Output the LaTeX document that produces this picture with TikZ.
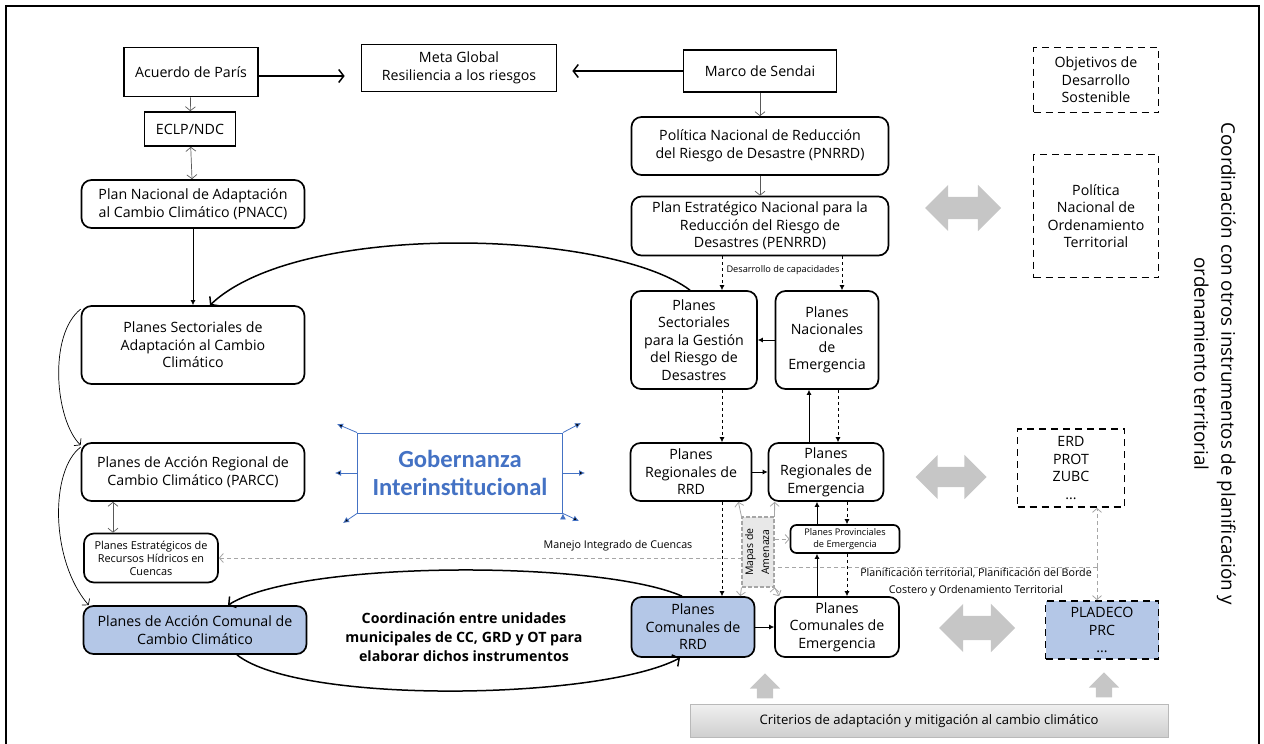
\documentclass[tikz,border=0pt]{standalone}
\usepackage{fontspec}
\setmainfont{Open Sans}
\newfontfamily\calibrifont{Carlito}
\usetikzlibrary{arrows.meta,shapes.arrows,positioning}
\definecolor{paleblue}{HTML}{B4C7E7}
\definecolor{govblue}{HTML}{4472C4}
\definecolor{arrowgray}{HTML}{595959}
\definecolor{lightline}{HTML}{A6A6A6}
\definecolor{blockgray}{HTML}{C6C6C6}
\begin{document}
\begin{tikzpicture}[x=1pt,y=-1pt,
    font=\fontsize{14.2}{17.5}\selectfont,
    plain box/.style={draw,line width=1.7pt,align=center,inner sep=2pt},
    round box/.style={plain box,rounded corners=10pt},
    dash box/.style={draw,line width=1.7pt,dash pattern=on 7pt off 5pt,align=center},
    small text/.style={font=\fontsize{10.9}{13}\selectfont},
    tiny text/.style={font=\fontsize{9.2}{12}\selectfont},
    bar arrow/.style={-{Straight Barb[length=5pt,width=13pt]},line width=1.5pt},
    gray arrow/.style={draw=arrowgray,-{Straight Barb[length=4pt,width=10pt]},line width=0.7pt},
    gray double/.style={gray arrow,{Straight Barb[length=4pt,width=10pt]}-{Straight Barb[length=4pt,width=10pt]}},
    flow/.style={-{Latex[length=5pt,width=5pt]},line width=0.8pt},
    flow dashed/.style={flow,dashed},
    thin bend/.style={-{Straight Barb[length=4pt,width=10pt]},line width=0.7pt},
    light arrow/.style={draw=lightline,-{Straight Barb[length=4pt,width=9pt]},line width=0.8pt},
    light dashed/.style={light arrow,dash pattern=on 4pt off 3pt},
    gov arrow/.style={draw=govblue,-{Latex[length=6pt,width=6pt]},line width=0.8pt},
    link arrow/.style={double arrow,fill=blockgray,draw=none,double arrow head extend=12pt,
                       inner xsep=0pt,inner ysep=11pt},
    up arrow/.style={single arrow,fill=blockgray,draw=none,rotate=90,single arrow head extend=7pt,
                     inner xsep=0pt,inner ysep=8pt,minimum height=25pt}]

    \useasboundingbox (0,0) rectangle (1264,744);
    % Frame
    \draw[line width=1.3pt] (6,744) -- (6,6) -- (1259,6) -- (1259,744);

    % Left column
    \node[plain box, minimum width=134pt, minimum height=49pt] (paris) at (191,72) {Acuerdo de París};
    \node[plain box, minimum width=91pt, minimum height=34pt] (eclp) at (190,129) {ECLP/NDC};
    \node[round box, minimum width=223pt, minimum height=48pt] (pnacc) at (193,204)
        {Plan Nacional de Adaptación\\al Cambio Climático (PNACC)};
    \node[round box, minimum width=223pt, minimum height=78pt] (psa) at (193,345)
        {Planes Sectoriales de\\Adaptación al Cambio\\Climático};
    \node[round box, minimum width=223pt, minimum height=58pt] (parcc) at (193,472)
        {Planes de Acción Regional de\\Cambio Climático (PARCC)};
    \node[round box, small text, minimum width=134pt, minimum height=49pt] (perh) at (151,558)
        {Planes Estratégicos de\\Recursos Hídricos en\\Cuencas};
    \node[round box, fill=paleblue, minimum width=223pt, minimum height=48pt] (pacc) at (195,630)
        {Planes de Acción Comunal de\\Cambio Climático};

    % Centre
    \node[plain box, minimum width=195pt, minimum height=47pt] (meta) at (459,68)
        {Meta Global\\Resiliencia a los riesgos};
    \node[draw=govblue, line width=0.9pt, align=center, text=govblue, minimum width=205pt, minimum height=80pt,
          font=\calibrifont\bfseries\fontsize{24.6}{28}\selectfont] (gob) at (460,473)
        {Gobernanza\\Interinstitucional};
    \node[align=center, font=\bfseries\fontsize{14.2}{19}\selectfont] (coord) at (464,637)
        {Coordinación entre unidades\\municipales de CC, GRD y OT para\\elaborar dichos instrumentos};

    % Risk column
    \node[plain box, minimum width=153pt, minimum height=42pt] (sendai) at (760,71) {Marco de Sendai};
    \node[round box, minimum width=257pt, minimum height=58pt] (pnrrd) at (760,146)
        {Política Nacional de Reducción\\del Riesgo de Desastre (PNRRD)};
    \node[round box, minimum width=257pt, minimum height=59pt] (penrrd) at (760,226)
        {Plan Estratégico Nacional para la\\Reducción del Riesgo de\\Desastres (PENRRD)};
    \node[round box, minimum width=126pt, minimum height=98pt] (psgrd) at (694,340)
        {Planes\\Sectoriales\\para la Gestión\\del Riesgo de\\Desastres};
    \node[round box, minimum width=103pt, minimum height=98pt] (pne) at (827,340)
        {Planes\\Nacionales\\de\\Emergencia};
    \node[round box, minimum width=121pt, minimum height=58pt] (prrd) at (691,472)
        {Planes\\Regionales de\\RRD};
    \node[round box, minimum width=115pt, minimum height=58pt] (pre) at (826,472)
        {Planes\\Regionales de\\Emergencia};
    \node[round box, tiny text, rounded corners=6pt, minimum width=109pt, minimum height=28pt] (ppe) at (845,539)
        {Planes Provinciales\\de Emergencia};
    \node[round box, fill=paleblue, minimum width=123pt, minimum height=60pt] (pcrrd) at (693,627)
        {Planes\\Comunales de\\RRD};
    \node[round box, minimum width=124pt, minimum height=60pt] (pce) at (837,627)
        {Planes\\Comunales de\\Emergencia};

    % Other instruments
    \node[dash box, minimum width=125pt, minimum height=65pt] (ods) at (1096,80)
        {Objetivos de\\Desarrollo\\Sostenible};
    \node[dash box, minimum width=125pt, minimum height=123pt] (pnot) at (1096,216)
        {Política\\Nacional de\\Ordenamiento\\Territorial};
    \node[dash box, minimum width=107pt, minimum height=78pt] (erd) at (1071,468)
        {ERD\\PROT\\ZUBC\\...};
    \node[dash box, fill=paleblue, minimum width=113pt, minimum height=58pt] (pladeco) at (1102,630)
        {PLADECO\\PRC\\...};
    \node[rotate=-90, align=center, font=\fontsize{18.8}{27}\selectfont] (side) at (1215,364)
        {Coordinación con otros instrumentos de planificación y\\ordenamiento territorial};
    \node[draw=gray!55, top color=gray!12, bottom color=gray!38, minimum width=478pt, minimum height=33pt,
          font=\fontsize{13.1}{15}\selectfont] (criterios) at (929,721)
        {Criterios de adaptación y mitigación al cambio climático};

    % Block arrows
    \node[link arrow, minimum height=76pt] (link1) at (963,208) {};
    \node[link arrow, minimum height=71pt, inner ysep=10pt] (link2) at (951,477) {};
    \node[link arrow, minimum height=76pt, inner ysep=12pt] (link3) at (977,628) {};
    \node[up arrow] (up1) at (765,690) {};
    \node[up arrow] (up2) at (1104,689) {};

    % Draw edges
    \draw[bar arrow, shorten >=16pt] ([yshift=-4pt]paris.east) -- ([yshift=-4pt]paris.east -| meta.west);
    \draw[bar arrow, shorten >=15pt] (sendai.west) -- (sendai.west -| meta.east);
    \path[gray arrow]
        (paris) edge (eclp)
        (sendai) edge (pnrrd)
        (pnrrd) edge (penrrd);
    \path[gray double] (eclp) edge (pnacc);
    \draw[gray double] ([xshift=-80pt]parcc.south) -- ([xshift=-38pt]perh.north);
    \draw[flow] (pnacc) -- (psa);
    \draw[bar arrow] ([xshift=-4pt]psgrd.north) .. controls (610,230) and (300,220) .. ([xshift=17pt]psa.north);
    \draw[thin bend] ([yshift=-4pt]psa.north west) .. controls (48,335) and (55,420) .. ([yshift=-3pt]parcc.north west);
    \draw[thin bend] ([yshift=-5pt]parcc.north west) .. controls (50,470) and (50,560) .. ([xshift=6pt]pacc.north west);
    \draw[bar arrow] ([xshift=-11pt]pcrrd.north) .. controls (600,560) and (300,560) .. ([xshift=33pt]pacc.north);
    \draw[bar arrow] ([xshift=42pt]pacc.south) .. controls (300,705) and (600,700) .. ([xshift=-13pt]pcrrd.south);

    % Risk plans
    \draw[flow dashed] ([xshift=-38pt]penrrd.south) -- ([xshift=28pt]psgrd.north);
    \draw[flow dashed] ([xshift=82pt]penrrd.south) -- ([xshift=15pt]pne.north);
    \node[tiny text] (capac) at (783,270) {Desarrollo de capacidades};
    \path[flow]
        (pne) edge (psgrd)
        (prrd) edge (pre)
        (pcrrd) edge (pce);
    \draw[flow dashed] ([xshift=28pt]psgrd.south) -- ([xshift=31pt]prrd.north);
    \draw[flow] ([xshift=-17pt]pre.north) -- ([xshift=-18pt]pne.south);
    \draw[flow dashed] ([xshift=11pt]pne.south) -- ([xshift=12pt]pre.north);
    \draw[flow dashed] ([xshift=21pt]pre.south) -- ([xshift=2pt]ppe.north);
    \draw[flow] ([xshift=-28pt]ppe.north) -- ([xshift=-9pt]pre.south);
    \draw[flow] ([xshift=-20pt]pce.north) -- ([xshift=-28pt]ppe.south);
    \draw[flow dashed] ([xshift=2pt]ppe.south) -- ([xshift=10pt]pce.north);
    \draw[flow dashed] ([xshift=31pt]prrd.south) -- ([xshift=29pt]pcrrd.north);

    % Territorial planning links
    \coordinate (junc) at (1097,567);
    \coordinate (mapc) at (758,552);
    \draw[light dashed] (junc) -- (junc -| mapc) |- (perh.east);
    \draw[light dashed] (junc) -- ([xshift=26pt]erd.south);
    \draw[light dashed] (junc) -- ([xshift=-5pt]pladeco.north);
    \node[font=\fontsize{10.7}{13}\selectfont] (cuencas) at (618,546) {Manejo Integrado de Cuencas};
    \node[align=center, font=\fontsize{10.7}{17}\selectfont] (plantext) at (976,582)
        {Planificación territorial, Planificación del Borde\\Costero y Ordenamiento Territorial};

    % Hazard maps
    \node[draw=lightline, fill=gray!18, line width=1.1pt, dash pattern=on 4pt off 2pt,
          minimum width=30pt, minimum height=70pt, inner sep=0pt,
          font=\fontsize{10.5}{16}\selectfont] (mapas) at (mapc)
        {\rotatebox{90}{\begin{tabular}{@{}c@{}}Mapas de\\Amenaza\end{tabular}}};
    \path[light arrow]
        (mapas.north west) edge ([xshift=-14pt]prrd.south east)
        (mapas.north east) edge ([xshift=7pt]pre.south west)
        (mapas.south west) edge ([xshift=-15pt]pcrrd.north east)
        (mapas.south east) edge ([xshift=5pt]pce.north west);
    \draw[light dashed] (mapas.east |- ppe.west) -- (ppe.west);

    % Governance arrows
    \coordinate (gnw) at (337,424);
    \coordinate (gne) at (581,423);
    \coordinate (gw) at (335,473);
    \coordinate (ge) at (585,473);
    \coordinate (gsw) at (343,523);
    \coordinate (gse) at (579,521);
    \path[gov arrow]
        (gob.north west) edge (gnw)
        (gob.north east) edge (gne)
        (gob.west) edge (gw)
        (gob.east) edge (ge)
        (gob.south west) edge (gsw)
        (gob.south east) edge (gse);

\end{tikzpicture}
\end{document}
